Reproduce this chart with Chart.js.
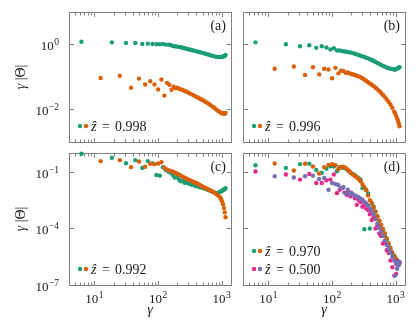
<!DOCTYPE html>
<html>
<head>
<meta charset="utf-8">
<title>gamma |Theta| panels</title>
<script src="https://cdn.jsdelivr.net/npm/chart.js@4.4.1/dist/chart.umd.min.js"></script>
<style>
  html, body { margin: 0; padding: 0; background: #fff; }
  #fig { position: relative; width: 419px; height: 329px; }
  #fig canvas { position: absolute; left: 0; top: 0; }
</style>
</head>
<body>
<div id="fig">
  <canvas id="pa" width="419" height="329"></canvas>
  <canvas id="pb" width="419" height="329"></canvas>
  <canvas id="pc" width="419" height="329"></canvas>
  <canvas id="pd" width="419" height="329"></canvas>
</div>
<script>
// gamma of the early, well separated points (odd / even multiples of 2 pi)
const gammaOdd  = [6.28, 18.85, 31.42, 43.98, 56.55, 69.12, 81.68, 94.25, 106.8, 119.4, 131.9, 144.5, 157.1, 169.6, 182.2, 194.8];
const gammaEven = [12.57, 25.13, 37.70, 50.27, 62.83, 75.40, 87.96, 100.5, 113.1, 125.7, 138.2, 150.8, 163.4, 175.9, 188.5, 201.1];
// gamma along the dense part of each curve
const gammaTail = [214, 229, 245, 262, 281, 300, 321, 344, 368, 393, 421, 450, 482, 516, 552, 590, 632, 676, 723, 774, 828, 886, 948, 980, 1015, 1050, 1086, 1118, 1150];

// gamma*|Theta|, first 16 values at gammaOdd/gammaEven, rest at gammaTail
const a_green = [1.17, 1.12, 1.07, 1.07, 1.00, 1.02, 1.00, 0.977, 0.977, 1.00, 0.955, 0.955, 0.933, 0.871, 0.851, 0.832,
  0.813, 0.794, 0.767, 0.741, 0.716, 0.692, 0.668, 0.646, 0.624, 0.603, 0.582, 0.562, 0.543, 0.525, 0.501, 0.484, 0.468, 0.447, 0.432, 0.417, 0.403, 0.398, 0.394, 0.398, 0.403, 0.412, 0.422, 0.437, 0.457];
const a_orange = [0.0912, 0.107, 0.0457, 0.0871, 0.0575, 0.0724, 0.0575, 0.0407, 0.0813, 0.0263, 0.0646, 0.0562, 0.0398, 0.0490, 0.0447, 0.0457,
  0.0427, 0.0407, 0.0389, 0.0363, 0.0347, 0.0324, 0.0302, 0.0282, 0.0263, 0.0245, 0.0229, 0.0214, 0.0200, 0.0186, 0.0170, 0.0158, 0.0145, 0.0132, 0.0120, 0.0110, 0.00977, 0.00891, 0.00813, 0.00776, 0.00759, 0.00741, 0.00724, 0.00741, 0.00776];

const b_green = [1.12, 0.977, 0.851, 0.912, 0.759, 0.851, 0.776, 0.676, 0.741, 0.631, 0.631, 0.603, 0.589, 0.575, 0.562, 0.550,
  0.525, 0.501, 0.479, 0.457, 0.437, 0.417, 0.398, 0.380, 0.363, 0.339, 0.324, 0.302, 0.282, 0.263, 0.245, 0.229, 0.214, 0.200, 0.191, 0.182, 0.174, 0.170, 0.166, 0.166, 0.170, 0.174, 0.182, 0.191, 0.195];
const b_orange = [0.174, 0.204, 0.112, 0.195, 0.117, 0.174, 0.166, 0.0891, 0.186, 0.126, 0.151, 0.148, 0.132, 0.135, 0.126, 0.120,
  0.117, 0.112, 0.107, 0.102, 0.0955, 0.0891, 0.0813, 0.0741, 0.0676, 0.0617, 0.0562, 0.0513, 0.0457, 0.0407, 0.0363, 0.0316, 0.0275, 0.0240, 0.0200, 0.0170, 0.0141, 0.0112, 0.00851, 0.00741, 0.00631, 0.00537, 0.00447, 0.00372, 0.00302];

const c_green = [0.912, 0.562, 0.288, 0.417, 0.162, 0.372, 0.282, 0.0676, 0.0631, 0.178, 0.126, 0.107, 0.0891, 0.0708, 0.0501, 0.0525,
  0.0380, 0.0316, 0.0324, 0.0263, 0.0275, 0.0240, 0.0234, 0.0200, 0.0204, 0.0174, 0.0178, 0.0155, 0.0148, 0.0138, 0.0126, 0.0115, 0.0105, 0.00955, 0.00871, 0.00794, 0.00741, 0.00776, 0.00871, 0.00933, 0.0100, 0.0107, 0.0117, 0.0126, 0.0135];
const c_orange = [0.372, 0.417, 0.178, 0.355, 0.186, 0.269, 0.257, 0.275, 0.324, 0.166, 0.135, 0.120, 0.107, 0.0977, 0.0871, 0.0776,
  0.0708, 0.0617, 0.0550, 0.0490, 0.0437, 0.0389, 0.0355, 0.0316, 0.0282, 0.0257, 0.0234, 0.0200, 0.0178, 0.0158, 0.0141, 0.0126, 0.0112, 0.0100, 0.00891, 0.00776, 0.00661, 0.00537, 0.00437, 0.00355, 0.00263, 0.00191, 0.00120, 0.000708, 0.000389];

const d_green = [0.224, 0.162, 0.257, 0.269, 0.126, 0.0891, 0.145, 0.200, 0.191, 0.107, 0.178, 0.166, 0.158, 0.138, 0.112, 0.0933,
  0.0759, 0.0661, 0.0562, 0.0468, 0.0380, 0.0138, 9.12e-5, 0.0112, 0.00708, 1.0e-4, 0.00224, 0.00141, 7.94e-4, 4.47e-4, 2.51e-4, 1.41e-4, 7.94e-5, 4.47e-5, 2.51e-5, 1.41e-5, 7.94e-6, 5.01e-6, 3.55e-6, 2.82e-6, 2.40e-6, 2.09e-6, 1.82e-6, 1.66e-6, 1.51e-6];
const d_orange = [0.275, 0.117, 0.269, 0.191, 0.0813, 0.178, 0.229, 0.251, 0.224, 0.138, 0.182, 0.186, 0.162, 0.132, 0.105, 0.0832,
  0.0692, 0.0603, 0.0501, 0.0417, 0.0316, 0.0224, 0.0158, 0.0105, 0.00562, 0.00316, 0.00209, 0.00126, 7.59e-4, 4.47e-4, 2.63e-4, 1.58e-4, 9.33e-5, 5.37e-5, 3.02e-5, 1.66e-5, 9.12e-6, 5.25e-6, 3.31e-6, 2.63e-6, 2.19e-6, 1.86e-6, 1.66e-6, 1.51e-6, 1.45e-6];
const d_pink = [0.105, 0.0724, 0.0389, 0.0776, 0.0257, 0.0257, 0.0355, 0.0389, 0.0724, 0.00741, 0.0112, 0.0138, 0.00794, 0.00603, 0.00912, 0.00501,
  0.00603, 0.00398, 0.00178, 0.00316, 0.00251, 0.00141, 0.00178, 0.00112, 9.55e-4, 5.62e-4, 2.82e-4, 3.98e-4, 1.0e-4, 1.41e-4, 5.37e-5, 3.98e-5, 1.58e-5, 2.00e-5, 6.92e-6, 5.01e-6, 2.00e-6, 8.71e-7, 3.16e-7, 2.00e-6, 3.89e-7, 1.26e-6, 1.78e-6, 1.41e-6, 1.58e-6];
const d_purple = [0.0589, 0.0501, 0.0589, 0.0631, 0.0417, 0.0479, 0.0112, 0.0257, 0.0229, 0.0200, 0.0138, 0.0158, 0.00741, 0.0112, 0.00631, 0.00794,
  0.00631, 0.00562, 0.00501, 0.00447, 0.00380, 0.00331, 0.00263, 0.00209, 0.00166, 0.00120, 8.32e-4, 5.62e-4, 3.16e-4, 1.78e-4, 1.05e-4, 6.61e-5, 3.98e-5, 2.24e-5, 1.32e-5, 8.32e-6, 5.25e-6, 3.16e-6, 2.00e-6, 3.16e-7, 1.35e-6, 7.24e-7, 1.58e-6, 1.12e-6, 1.66e-6];

const zHat = ['0.998', '0.996', '0.992', '0.970', '0.500'];
const panelTags = ['(a)', '(b)', '(c)', '(d)'];
const yTicksTop = [1e-2, 1];
const yTicksBottom = [1e-7, 1e-4, 1e-1];

const GREEN = '#1b9e77', ORANGE = '#d95f02', PINK = '#e7298a', PURPLE = '#7570b3';
const AXIS = '#808080', TEXT = '#1a1a1a';
const FONT = "'Liberation Serif', serif";
const W = 419, H = 329;
const X_MIN = 4, X_MAX = 1400;

const oddX = gammaOdd.concat(gammaTail);
const evenX = gammaEven.concat(gammaTail);

// minor ticks 2..9 of every decade plus the decades
const X_TICKS = [];
[1, 10, 100, 1000].forEach(d => {
  for (let m = 1; m <= 9; m++) {
    const v = m * d;
    if (v >= X_MIN && v <= X_MAX) X_TICKS.push(v);
  }
});

function isDecade(v) {
  const e = Math.log10(v);
  return Math.abs(e - Math.round(e)) < 1e-9;
}
function expOf(v) {
  return String(Math.round(Math.log10(v))).replace('-', '\u2212');
}

// "10" with a raised exponent; align 'right' or 'center' about x
function drawPow(ctx, v, x, baseline, align) {
  ctx.font = '13px ' + FONT;
  const wb = ctx.measureText('10').width;
  ctx.font = '9.5px ' + FONT;
  const e = expOf(v);
  const we = ctx.measureText(e).width + 0.5;
  const x0 = align === 'right' ? x - wb - we : x - (wb + we) / 2;
  ctx.textAlign = 'left';
  ctx.font = '13px ' + FONT;
  ctx.fillText('10', x0, baseline);
  ctx.font = '9.5px ' + FONT;
  ctx.fillText(e, x0 + wb + 0.5, baseline - 5);
}

const COLS = [{left: 69, right: 231}, {left: 243, right: 405}];
const ROWS = [
  {top: 12, bottom: 142, min: 1e-3, max: 9.5, ticks: yTicksTop},
  {top: 153, bottom: 285, min: 1e-7, max: 1, ticks: yTicksBottom}
];

// frame, inward ticks, tick labels, panel tag, legend and axis titles
const framePlugin = {
  id: 'frame',
  beforeDatasetsDraw(chart, args, o) {
    const {ctx, chartArea: a} = chart;
    const xs = chart.scales.x, ys = chart.scales.y;
    ctx.save();
    ctx.strokeStyle = AXIS;
    ctx.lineWidth = 1;
    ctx.strokeRect(a.left + 0.5, a.top + 0.5, a.right - a.left, a.bottom - a.top);
    ctx.beginPath();
    xs.ticks.forEach(t => {
      const px = Math.round(xs.getPixelForValue(t.value)) + 0.5;
      const len = t.major ? 4 : 2.5;
      ctx.moveTo(px, a.bottom); ctx.lineTo(px, a.bottom - len);
      ctx.moveTo(px, a.top + 1); ctx.lineTo(px, a.top + 1 + len);
    });
    ys.ticks.forEach(t => {
      const py = Math.round(ys.getPixelForValue(t.value)) + 0.5;
      ctx.moveTo(a.left + 1, py); ctx.lineTo(a.left + 5, py);
      ctx.moveTo(a.right, py); ctx.lineTo(a.right - 4, py);
    });
    ctx.stroke();

    ctx.fillStyle = TEXT;
    ctx.textBaseline = 'alphabetic';
    if (o.xTitle) {
      xs.ticks.filter(t => t.major).forEach(t => {
        drawPow(ctx, t.value, xs.getPixelForValue(t.value), a.bottom + 18, 'center');
      });
    }
    if (o.yTitle) {
      ys.ticks.forEach(t => {
        drawPow(ctx, t.value, a.left - 10, ys.getPixelForValue(t.value) + 6, 'right');
      });
    }
    ctx.restore();
  },
  afterDraw(chart, args, o) {
    const {ctx, chartArea: a} = chart;
    ctx.save();
    ctx.fillStyle = TEXT;
    ctx.textBaseline = 'alphabetic';

    ctx.font = '14px ' + FONT;
    ctx.textAlign = 'right';
    ctx.fillText(o.tag, a.right - 5, a.top + 18);

    o.legend.forEach((row, i) => {
      const cy = a.bottom - 16 - 18 * (o.legend.length - 1 - i);
      row.colors.forEach((c, k) => {
        ctx.fillStyle = c;
        ctx.beginPath();
        ctx.arc(a.left + 11 + 6 * k, cy, 2.2, 0, 2 * Math.PI);
        ctx.fill();
      });
      ctx.fillStyle = TEXT;
      ctx.textAlign = 'left';
      ctx.font = 'italic 14px ' + FONT;
      ctx.fillText('ẑ', a.left + 22, cy + 4.5);
      ctx.font = '14px ' + FONT;
      ctx.textAlign = 'center';
      ctx.fillText('=', a.left + 37, cy + 4.5);
      ctx.textAlign = 'left';
      ctx.fillText(row.label, a.left + 46, cy + 4.5);
    });

    if (o.xTitle) {
      ctx.font = 'italic 14px ' + FONT;
      ctx.textAlign = 'center';
      ctx.fillText('γ', (a.left + a.right) / 2, 314);
    }
    if (o.yTitle) {
      ctx.translate(25, (a.top + a.bottom) / 2);
      ctx.rotate(-Math.PI / 2);
      ctx.font = 'italic 14px ' + FONT;
      const w1 = ctx.measureText('γ').width;
      ctx.font = '14px ' + FONT;
      const w2 = ctx.measureText(' |Θ|').width;
      const x0 = -(w1 + w2) / 2;
      ctx.textAlign = 'left';
      ctx.font = 'italic 14px ' + FONT;
      ctx.fillText('γ', x0, 0);
      ctx.font = '14px ' + FONT;
      ctx.fillText(' |Θ|', x0 + w1, 0);
    }
    ctx.restore();
  }
};

function makePanel(p) {
  const col = COLS[p.col], row = ROWS[p.row];
  const showX = p.row === 1, showY = p.col === 0;
  return new Chart(document.getElementById(p.id), {
    type: 'scatter',
    data: {
      datasets: p.series.map(s => ({
        data: s.x.map((g, i) => ({x: g, y: s.y[i]})),
        backgroundColor: s.color,
        borderColor: s.color,
        pointRadius: 2.2,
        pointHoverRadius: 2.2,
        pointBorderWidth: 0,
        clip: false,
        order: s.order
      }))
    },
    options: {
      responsive: false,
      animation: false,
      devicePixelRatio: 1,
      events: [],
      layout: {padding: {left: col.left - 40, right: W - col.right, top: row.top, bottom: H - row.bottom - 30}},
      plugins: {
        legend: {display: false},
        tooltip: {enabled: false},
        frame: {tag: p.tag, legend: p.legend, xTitle: showX, yTitle: showY}
      },
      scales: {
        x: {
          type: 'logarithmic', min: X_MIN, max: X_MAX,
          grid: {display: false, drawTicks: false},
          border: {display: false},
          afterBuildTicks: s => { s.ticks = X_TICKS.map(v => ({value: v, major: isDecade(v)})); },
          afterFit: s => { s.height = 30; s.paddingLeft = 0; s.paddingRight = 0; },
          ticks: {display: false}
        },
        y: {
          type: 'logarithmic', min: row.min, max: row.max,
          grid: {display: false, drawTicks: false},
          border: {display: false},
          afterBuildTicks: s => { s.ticks = row.ticks.map(v => ({value: v, major: true})); },
          afterFit: s => { s.width = 40; s.paddingTop = 0; s.paddingBottom = 0; },
          ticks: {display: false}
        }
      }
    },
    plugins: [framePlugin]
  });
}

makePanel({id: 'pa', col: 0, row: 0, tag: panelTags[0],
  series: [{x: oddX, y: a_green, color: GREEN, order: 2}, {x: evenX, y: a_orange, color: ORANGE, order: 1}],
  legend: [{colors: [GREEN, ORANGE], label: zHat[0]}]});
makePanel({id: 'pb', col: 1, row: 0, tag: panelTags[1],
  series: [{x: oddX, y: b_green, color: GREEN, order: 2}, {x: evenX, y: b_orange, color: ORANGE, order: 1}],
  legend: [{colors: [GREEN, ORANGE], label: zHat[1]}]});
makePanel({id: 'pc', col: 0, row: 1, tag: panelTags[2],
  series: [{x: oddX, y: c_green, color: GREEN, order: 2}, {x: evenX, y: c_orange, color: ORANGE, order: 1}],
  legend: [{colors: [GREEN, ORANGE], label: zHat[2]}]});
makePanel({id: 'pd', col: 1, row: 1, tag: panelTags[3],
  series: [{x: oddX, y: d_green, color: GREEN, order: 4}, {x: evenX, y: d_orange, color: ORANGE, order: 3},
           {x: oddX, y: d_pink, color: PINK, order: 2}, {x: evenX, y: d_purple, color: PURPLE, order: 1}],
  legend: [{colors: [GREEN, ORANGE], label: zHat[3]}, {colors: [PINK, PURPLE], label: zHat[4]}]});
</script>
</body>
</html>
